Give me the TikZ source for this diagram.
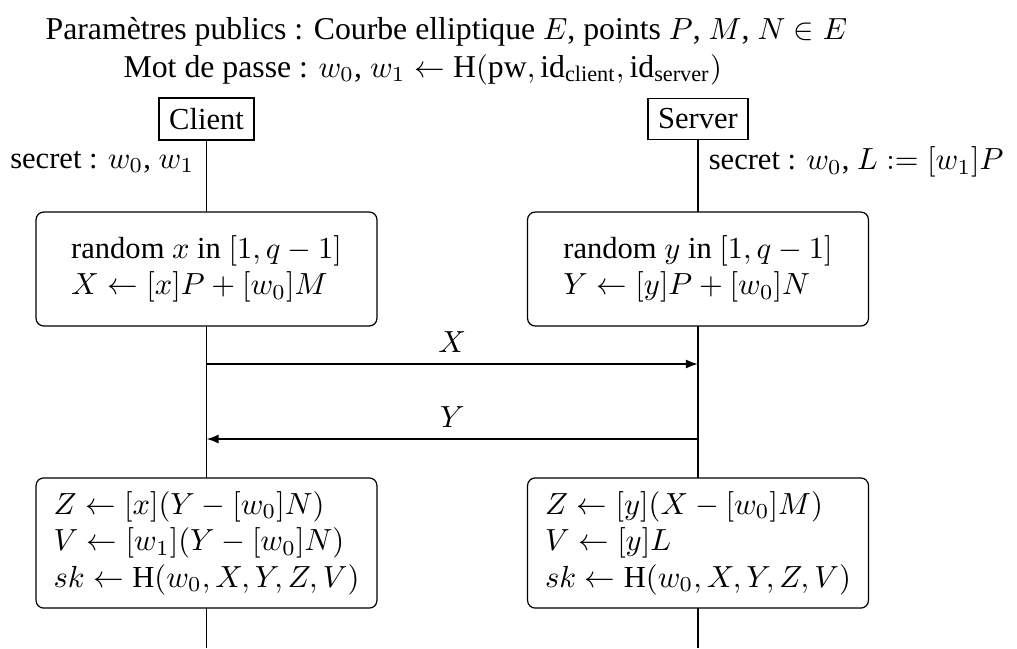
\documentclass[tikz,border=0pt]{standalone}
\usepackage{fontspec}
\setmainfont{Liberation Serif}
\usetikzlibrary{arrows.meta}
\begin{document}
\begin{tikzpicture}[x=0.3274pt,y=-0.3274pt,
  titletext/.style={anchor=base west,inner sep=0pt,font=\fontsize{10.4}{12.5}\selectfont},
  actor/.style={draw,rectangle,fill=white},
  procbox/.style={draw,rectangle,rounded corners=2.5pt,fill=white,align=left,minimum width=111.6pt},
  msg/.style={semithick,-{Latex[length=4pt,width=3pt]}},
  life/.style={semithick}]
\useasboundingbox (0,0) rectangle (1017,648);
\node[titletext] (t1) at (45,39) {Paramètres publics : Courbe elliptique $E$, points $P$, $M$, $N \in E$};
\node[titletext] (t2) at (123,77) {Mot de passe : $w_0$, $w_1 \leftarrow \mathrm{H}(\mathrm{pw}, \mathrm{id}_{\mathrm{client}}, \mathrm{id}_{\mathrm{server}})$};
\node[actor] (client) at (206.5,119) {Client};
\node[actor] (server) at (698,119) {Server};
\coordinate (cend) at (206.5,648);
\coordinate (send) at (698,648);
\draw[life] (client.south) -- (cend);
\draw[life] (server.south) -- (send);
\node[anchor=east] (csec) at (205,162) {secret : $w_0$, $w_1$};
\node[anchor=west] (ssec) at (698,162) {secret : $w_0$, $L := [w_1]P$};
\node[procbox,minimum height=37.3pt] (c1) at (206.5,269) {random $x$ in $[1,q-1]$\\ $X \leftarrow [x]P + [w_0]M$};
\node[procbox,minimum height=37.3pt] (s1) at (698,269) {random $y$ in $[1,q-1]$\\ $Y \leftarrow [y]P + [w_0]N$};
\coordinate (xa) at (206.5,364);
\coordinate (xb) at (698,364);
\coordinate (ya) at (206.5,439);
\coordinate (yb) at (698,439);
\draw[msg] (xa) -- node[above] (xl) {$X$} (xb);
\draw[msg] (yb) -- node[above] (yl) {$Y$} (ya);
\node[procbox,minimum height=42.6pt] (c2) at (206.5,543) {$Z \leftarrow [x](Y - [w_0]N)$\\ $V \leftarrow [w_1](Y - [w_0]N)$\\ $sk \leftarrow \mathrm{H}(w_0, X, Y, Z, V)$};
\node[procbox,minimum height=42.6pt] (s2) at (698,543) {$Z \leftarrow [y](X - [w_0]M)$\\ $V \leftarrow [y]L$\\ $sk \leftarrow \mathrm{H}(w_0, X, Y, Z, V)$};
\end{tikzpicture}
\end{document}
